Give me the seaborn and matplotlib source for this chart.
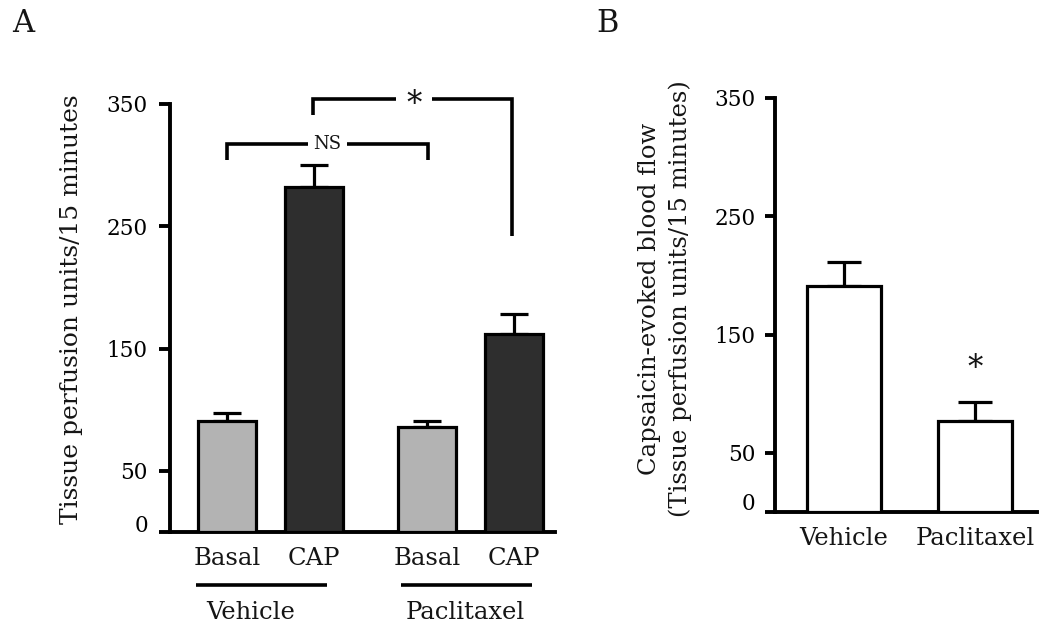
import numpy as np
import pandas as pd
import matplotlib
matplotlib.use("Agg")
import matplotlib.pyplot as plt
import seaborn as sns
from matplotlib.transforms import ScaledTranslation, blended_transform_factory

# Panel A: basal and capsaicin-evoked perfusion per treatment group
a_positions = [0.0, 1.0, 2.3, 3.3]
a_conditions = ["Basal", "CAP", "Basal", "CAP"]
a_groups = ["Vehicle", "Paclitaxel"]
a_means = [91, 282, 86, 162]
a_sem = [6, 18, 5, 16]

# Panel B: capsaicin-evoked blood flow
b_groups = ["Vehicle", "Paclitaxel"]
b_means = [191, 77]
b_sem = [20, 16]

y_ticks = [0, 50, 150, 250, 350]

sns.set_theme(style="ticks")
plt.rcParams["font.family"] = ["DejaVu Serif"]
plt.rcParams["text.color"] = "#151515"
plt.rcParams["xtick.color"] = "#151515"
plt.rcParams["ytick.color"] = "black"

W, H = 1051, 631
fig = plt.figure(figsize=(W / 100, H / 100), dpi=100)


def px_axes(left, right, bottom, top):
    return fig.add_axes([left / W, 1 - bottom / H, (right - left) / W, (bottom - top) / H])


axA = px_axes(170, 555, 532, 104)
axB = px_axes(775, 1037, 512, 98)

SPINE_LW = 2.8
BAR_LW = 2.3


def style_axes(ax, ytick_len, ytick_pad, zero_shift):
    sns.despine(ax=ax)
    for side in ("left", "bottom"):
        ax.spines[side].set_linewidth(SPINE_LW)
        ax.spines[side].set_color("black")
    ax.set_ylim(0, 350)
    ax.set_yticks(y_ticks)
    ax.tick_params(axis="y", length=ytick_len, width=SPINE_LW, pad=ytick_pad, labelsize=15.5)
    ax.tick_params(axis="x", length=0, pad=11, labelsize=17.5)
    ax.set_xlabel("")
    ax.set_ylabel("")
    zero = ax.get_yticklabels()[0]
    zero.set_transform(zero.get_transform() + ScaledTranslation(0, zero_shift, fig.dpi_scale_trans))


# ---- Panel A ----
df_a = pd.DataFrame({"pos": a_positions, "cond": a_conditions, "mean": a_means})
sns.barplot(data=df_a, x="pos", y="mean", hue="cond",
            palette={"Basal": "#b3b3b3", "CAP": "#2e2e2e"},
            native_scale=True, width=0.667, edgecolor="black", linewidth=BAR_LW,
            errorbar=None, legend=False, ax=axA)
for p in axA.patches:
    p.set_zorder(3)
axA.errorbar(a_positions, a_means, yerr=[np.zeros(len(a_sem)), a_sem], fmt="none",
             ecolor="black", elinewidth=BAR_LW, capsize=10, capthick=BAR_LW, zorder=2)
axA.set_xlim(-0.655, 3.77)
axA.set_xticks(a_positions, a_conditions)
style_axes(axA, ytick_len=8, ytick_pad=8, zero_shift=0.08)

# group underlines and names
trA = blended_transform_factory(axA.transData, axA.transAxes)
for (x0, x1), name, xc in zip([(-0.356, 1.15), (2.0, 3.5)], a_groups, [0.276, 2.74]):
    axA.plot([x0, x1], [-0.124, -0.124], color="black", lw=2.6, transform=trA,
             clip_on=False, solid_capstyle="butt")
    axA.text(xc, -0.187, name, transform=trA, ha="center", va="center", fontsize=17.5)

# significance brackets
bk = dict(color="black", lw=2.6, clip_on=False, solid_capstyle="butt", solid_joinstyle="miter")
axA.plot([0.0, 0.0, 0.93], [304, 317, 317], **bk)
axA.plot([1.38, 2.31, 2.31], [317, 317, 304], **bk)
axA.text(1.155, 317, "NS", ha="center", va="center", fontsize=13)
axA.plot([0.99, 0.99, 1.94], [341, 354, 354], **bk)
axA.plot([2.36, 3.28, 3.28], [354, 354, 242], **bk)
axA.text(2.15, 350, "*", ha="center", va="center", fontsize=22)

fig.text(72 / W, 1 - 309 / H, "Tissue perfusion units/15 minutes", rotation=90,
         ha="center", va="center", fontsize=18)

# ---- Panel B ----
df_b = pd.DataFrame({"group": b_groups, "mean": b_means})
sns.barplot(data=df_b, x="group", y="mean", color="white", width=0.565,
            edgecolor="black", linewidth=BAR_LW, errorbar=None, ax=axB)
for p in axB.patches:
    p.set_facecolor("white")
    p.set_zorder(3)
axB.errorbar(range(len(b_groups)), b_means, yerr=[np.zeros(len(b_sem)), b_sem], fmt="none",
             ecolor="black", elinewidth=BAR_LW, capsize=12.5, capthick=BAR_LW, zorder=2)
axB.set_xlim(-0.527, 1.47)
style_axes(axB, ytick_len=7, ytick_pad=7, zero_shift=0.11)
axB.text(1, 121, "*", ha="center", va="center", fontsize=22)

fig.text(665 / W, 1 - 299 / H,
         "Capsaicin-evoked blood flow\n(Tissue perfusion units/15 minutes)",
         rotation=90, ha="center", va="center", multialignment="center",
         fontsize=17.5, linespacing=1.4)

# panel letters
fig.text(23 / W, 1 - 23 / H, "A", ha="center", va="center", fontsize=22)
fig.text(608 / W, 1 - 23 / H, "B", ha="center", va="center", fontsize=22)

fig.savefig("out.png", dpi=100)
